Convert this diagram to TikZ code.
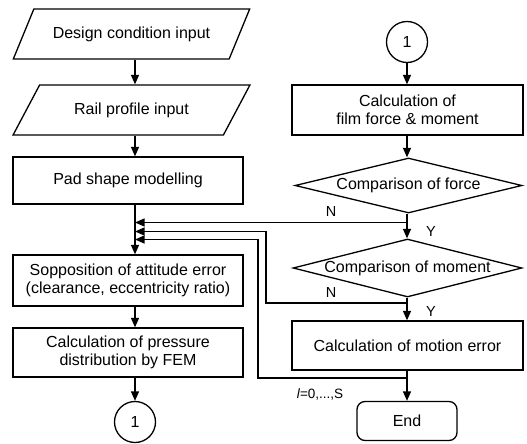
\documentclass[tikz,border=0pt]{standalone}
\usepackage{fontspec}
\setmainfont{Liberation Sans}
\usetikzlibrary{shapes.geometric,arrows.meta}
\begin{document}
\begin{tikzpicture}[x=1pt,y=-1pt,
  every node/.style={font=\fontsize{16}{17.5}\selectfont},
  box/.style={draw, line width=1.3pt, align=center, inner sep=0pt},
  io/.style={draw, line width=1.3pt, trapezium, trapezium left angle=42, trapezium right angle=138,
    trapezium stretches=true, minimum width=237, minimum height=50, inner sep=0pt},
  conn/.style={draw, line width=1.3pt, circle, minimum size=41, inner sep=0pt},
  dec/.style={draw, line width=1.3pt, diamond, aspect=4.1, inner sep=0pt},
  endbox/.style={draw, line width=1.3pt, rounded corners=8pt, minimum width=100, minimum height=39, inner sep=0pt},
  arr/.style={-{Triangle[length=9.5pt,width=8pt]}, line width=1.3pt},
  lbl/.style={font=\fontsize{14.5}{16}\selectfont, inner sep=0pt}]
\useasboundingbox (0,0) rectangle (527,444);
\coordinate (lx) at (135,0);
\coordinate (rx) at (407,0);
\coordinate (k2) at (266,0);
\coordinate (k3) at (258,0);
% left column
\node[io] (in1) at (131.5,34) {Design condition input};
\node[io] (in2) at (131.5,110) {Rail profile input};
\node[box, minimum width=230, minimum height=47] (pad) at (128,180.5) {Pad shape modelling};
\node[box, minimum width=230, minimum height=51] (sop) at (128,280.5) {Sopposition of attitude error\\(clearance, eccentricity ratio)};
\node[box, minimum width=230, minimum height=49] (fem) at (128,352.5) {Calculation of pressure\\distribution by FEM};
\node[conn] (c1) at (135,422) {1};
% right column
\node[conn] (c2) at (407,42) {1};
\node[box, minimum width=231, minimum height=50] (film) at (407.5,110) {Calculation of\\film force \& moment};
\node[dec, minimum width=227, minimum height=55] (d1) at (408.5,185.5) {Comparison of force};
\node[dec, minimum width=229, minimum height=58] (d2) at (407.5,268) {Comparison of moment};
\node[box, minimum width=231, minimum height=49] (mot) at (407.5,345.5) {Calculation of motion error};
\node[endbox] (end) at (407,421) {End};
% junctions
\coordinate (j1) at (407,222.5);
\coordinate (j2) at (407,303);
\coordinate (j3) at (407,378);
\coordinate (t2) at (135,231.5);
\coordinate (t3) at (135,239.5);
% main flow
\draw[arr] (in1.south -| lx) -- (in2.north -| lx);
\draw[arr] (in2.south -| lx) -- (pad.north -| lx);
\draw[arr] (pad.south -| lx) -- (sop.north -| lx);
\draw[arr] (sop.south -| lx) -- (fem.north -| lx);
\draw[arr] (fem.south -| lx) -- (c1.north);
\draw[arr] (c2.south) -- (film.north -| rx);
\draw[arr] (film.south -| rx) -- (d1.north -| rx);
\draw[arr] (d1.south -| rx) -- (d2.north -| rx);
\draw[arr] (d2.south -| rx) -- (mot.north -| rx);
\draw[arr] (mot.south -| rx) -- (end.north);
% feedback loops
\draw[arr] (j1) -- (j1 -| lx);
\draw[arr] (j2) -- (j2 -| k2) |- (t2);
\draw[arr] (j3) -- (j3 -| k3) |- (t3);
% labels
\node[lbl] (n1) at (331,212) {N};
\node[lbl] (y1) at (431,232) {Y};
\node[lbl] (n2) at (331,293) {N};
\node[lbl] (y2) at (431,312) {Y};
\node[lbl, font=\fontsize{13.5}{15}\selectfont] (ls) at (320,394) {\textit{l}=0,...,S};
\end{tikzpicture}
\end{document}
